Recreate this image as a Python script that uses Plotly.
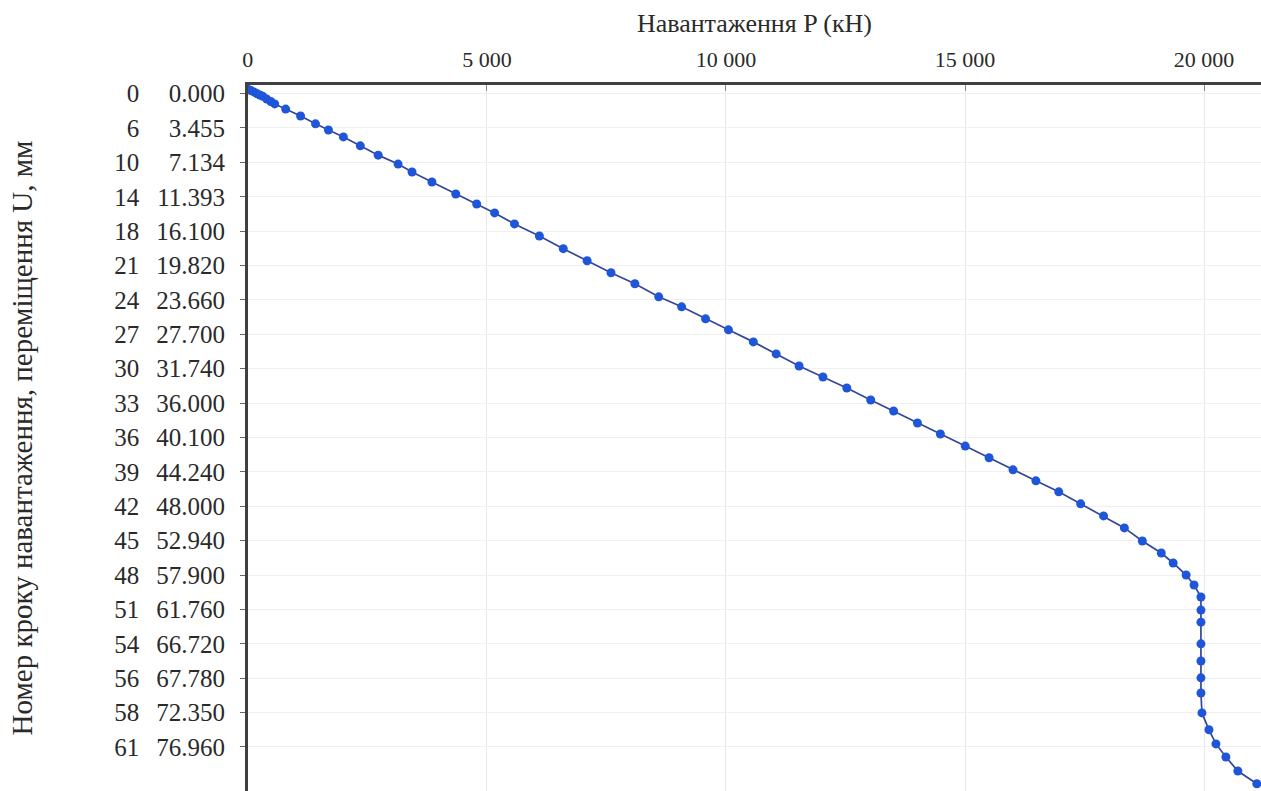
import plotly.graph_objects as go

# Y-axis categories (evenly spaced rows): load step number and displacement U, mm
step_numbers = [0, 6, 10, 14, 18, 21, 24, 27, 30, 33, 36, 39, 42, 45, 48, 51, 54, 56, 58, 61]
displacement_labels = ["0.000", "3.455", "7.134", "11.393", "16.100", "19.820", "23.660",
                       "27.700", "31.740", "36.000", "40.100", "44.240", "48.000", "52.940",
                       "57.900", "61.760", "66.720", "67.780", "72.350", "76.960"]
row_index = list(range(len(step_numbers)))

# Series: load P (kN) and its position on the row scale
load_P = [0, 62, 125, 187, 250, 312, 395, 479, 562, 791, 1103, 1415, 1686, 1998, 2352,
          2726, 3142, 3434, 3850, 4349, 4786, 5161, 5577, 6097, 6597, 7096, 7595, 8095,
          8594, 9073, 9573, 10052, 10572, 11050, 11529, 12028, 12527, 13027, 13506, 14005,
          14484, 15004, 15503, 16003, 16482, 16960, 17418, 17897, 18333, 18708, 19104,
          19353, 19624, 19790, 19934, 19934, 19934, 19934, 19934, 19934, 19934, 19955,
          20102, 20248, 20456, 20706, 21102]
row_pos = [-0.13, -0.09, -0.05, 0.00, 0.04, 0.08, 0.16, 0.23, 0.30, 0.45, 0.65, 0.88, 1.06,
           1.26, 1.52, 1.79, 2.05, 2.28, 2.57, 2.92, 3.21, 3.47, 3.79, 4.14, 4.51, 4.86,
           5.21, 5.53, 5.91, 6.20, 6.55, 6.87, 7.22, 7.57, 7.92, 8.24, 8.56, 8.91, 9.23,
           9.58, 9.90, 10.25, 10.59, 10.94, 11.26, 11.58, 11.93, 12.28, 12.63, 13.01, 13.36,
           13.65, 14.00, 14.29, 14.64, 15.02, 15.37, 16.00, 16.50, 16.99, 17.43, 18.01,
           18.50, 18.91, 19.29, 19.70, 20.07]

x_ticks = [0, 5000, 10000, 15000, 20000]

FONT = "Liberation Serif, Times New Roman, serif"
W, H = 1261, 791
left_px = 243
top_px = 85

fig = go.Figure()
fig.add_trace(go.Scatter(
    x=load_P, y=row_pos, mode="lines+markers",
    line=dict(color="#34469c", width=1.7),
    marker=dict(color="#1f55d8", size=9, line=dict(width=0)),
    showlegend=False, hoverinfo="x+y",
))
# invisible trace to carry the step-number axis
fig.add_trace(go.Scatter(
    x=load_P, y=row_pos, yaxis="y2", mode="markers",
    marker=dict(opacity=0), showlegend=False, hoverinfo="skip",
))

yrange = [20.28, -0.25]

fig.update_layout(
    width=W, height=H,
    margin=dict(l=0, r=0, t=top_px, b=0),
    paper_bgcolor="white", plot_bgcolor="white",
    separators=". ",
    font=dict(family=FONT, size=22, color="#2a2a2a"),
    xaxis=dict(
        domain=[left_px / W, 1], side="top", range=[0, 21190],
        tickvals=x_ticks, tickformat=",d", tickfont=dict(size=22),
        ticks="inside", ticklen=6, tickcolor="#888888",
        showline=True, linecolor="#404040", linewidth=2.5,
        showgrid=True, gridcolor="#e8e8e8", gridwidth=1,
        zeroline=False, ticklabelstandoff=6,
        title=dict(text="Навантаження P (кН)", font=dict(size=26), standoff=8),
    ),
    yaxis=dict(
        range=yrange, tickvals=row_index, ticktext=displacement_labels,
        tickfont=dict(size=25),
        ticks="outside", ticklen=5, tickcolor="#666666",
        showline=True, linecolor="#404040", linewidth=2.5,
        showgrid=True, gridcolor="#f0f0f0", gridwidth=1,
        zeroline=False, ticklabelstandoff=10,
    ),
    yaxis2=dict(
        overlaying="y", anchor="free", position=134 / W, side="left",
        range=yrange, tickvals=row_index, ticktext=[str(s) for s in step_numbers],
        tickfont=dict(size=25),
        ticks="", showline=False, showgrid=False, zeroline=False,
        title=dict(text="Номер кроку навантаження, переміщення U, мм",
                   font=dict(size=29), standoff=72),
    ),
)

fig.write_html("out.html", config={"displayModeBar": False},
               post_script="document.body.style.margin='0';")
